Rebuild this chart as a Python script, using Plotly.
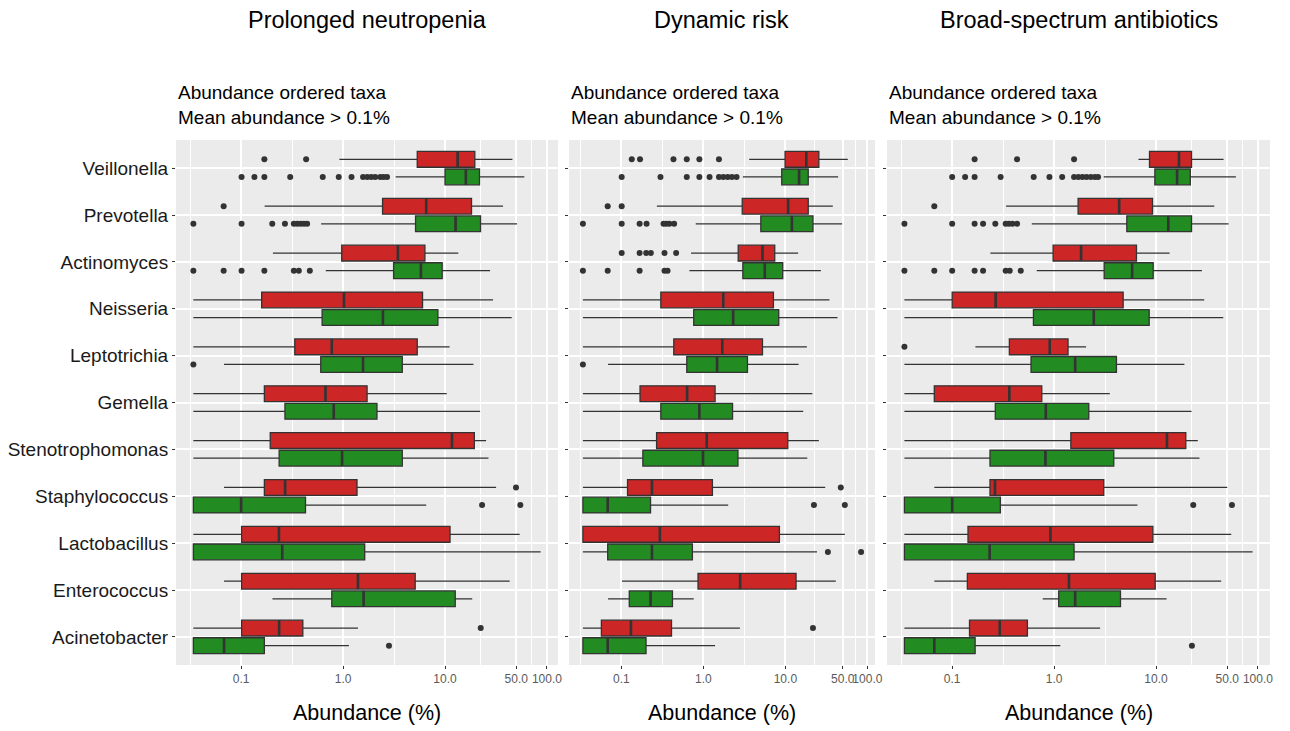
import math
import plotly.graph_objects as go

# ---------------- data ----------------
taxa = ["Veillonella", "Prevotella", "Actinomyces", "Neisseria", "Leptotrichia",
        "Gemella", "Stenotrophomonas", "Staphylococcus", "Lactobacillus",
        "Enterococcus", "Acinetobacter"]
panel_titles = ["Prolonged neutropenia", "Dynamic risk", "Broad-spectrum antibiotics"]
subtitle = "Abundance ordered taxa<br>Mean abundance > 0.1%"
x_title = "Abundance (%)"
x_tick_vals = [0.1, 1, 10, 50, 100]
x_tick_text = ["0.1", "1.0", "10.0", "50.0", "100.0"]
x_minor_vals = [0.0316, 0.316, 3.16, 22.4, 70.7]
group_colors = {"red": "#CD2626", "green": "#228B22"}

# Panel 1: Prolonged neutropenia
pn_red_low = [0.92, 0.170, 0.205, 0.034, 0.034, 0.034, 0.034, 0.068, 0.034, 0.068, 0.034]
pn_red_q1 = [5.34, 2.44, 0.97, 0.159, 0.336, 0.169, 0.193, 0.169, 0.101, 0.101, 0.101]
pn_red_med = [13.3, 6.54, 3.45, 1.02, 0.775, 0.672, 11.7, 0.270, 0.235, 1.40, 0.236]
pn_red_q3 = [19.6, 18.2, 6.35, 6.02, 5.34, 1.72, 19.4, 1.37, 11.2, 5.1, 0.403]
pn_red_high = [45.8, 37.1, 13.5, 29.6, 11.1, 10.4, 25.3, 31.7, 54.0, 43.1, 1.40]
pn_red_out = [[0.169, 0.434], [0.0674], [], [], [], [], [], [49.7], [], [], [22.4]]

pn_green_low = [3.28, 0.609, 0.677, 0.034, 0.068, 0.034, 0.034, 0.034, 0.034, 0.203, 0.034]
pn_green_q1 = [10.0, 5.14, 3.13, 0.623, 0.604, 0.269, 0.236, 0.034, 0.034, 0.775, 0.034]
pn_green_med = [16.0, 12.7, 5.80, 2.46, 1.57, 0.81, 0.978, 0.100, 0.253, 1.59, 0.068]
pn_green_q3 = [21.8, 22.3, 9.38, 8.51, 3.81, 2.15, 3.81, 0.428, 1.63, 12.6, 0.169]
pn_green_high = [60.0, 50.9, 27.7, 45.1, 19.0, 22.1, 26.7, 6.54, 86.7, 18.5, 1.14]
pn_green_out = [[0.101, 0.135, 0.169, 0.303, 0.632, 0.907, 1.21, 1.57, 1.73, 1.89, 2.07, 2.32, 2.50, 2.70],
                [0.034, 0.101, 0.202, 0.269, 0.329, 0.355, 0.384, 0.413, 0.444],
                [0.034, 0.0674, 0.101, 0.169, 0.329, 0.368, 0.472],
                [], [0.034], [], [], [23.1, 54.8], [], [], [2.82]]

# Panel 2: Dynamic risk
dr_red_low = [3.62, 0.271, 0.708, 0.034, 0.034, 0.034, 0.034, 0.034, 0.034, 0.102, 0.034]
dr_red_q1 = [9.91, 2.98, 2.66, 0.303, 0.436, 0.169, 0.269, 0.119, 0.034, 0.861, 0.0571]
dr_red_med = [18.0, 10.8, 5.26, 1.75, 1.70, 0.634, 1.10, 0.236, 0.295, 2.81, 0.131]
dr_red_q3 = [25.6, 19.0, 7.42, 7.15, 5.26, 1.39, 10.7, 1.29, 8.46, 13.5, 0.409]
dr_red_high = [57.7, 37.9, 14.3, 34.5, 18.3, 21.3, 25.6, 30.6, 53.1, 41.2, 2.79]
dr_red_out = [[0.134, 0.169, 0.432, 0.628, 0.894, 1.55], [0.0682, 0.101],
              [0.101, 0.167, 0.201, 0.229, 0.336, 0.466],
              [], [], [], [], [47.4], [], [], [21.7]]

dr_green_low = [3.03, 0.807, 0.676, 0.034, 0.0689, 0.034, 0.034, 0.034, 0.034, 0.0689, 0.034]
dr_green_q1 = [9.03, 5.02, 3.03, 0.763, 0.628, 0.303, 0.183, 0.034, 0.0682, 0.125, 0.034]
dr_green_med = [14.7, 12.0, 5.61, 2.31, 1.47, 0.894, 0.99, 0.0682, 0.236, 0.227, 0.0682]
dr_green_q3 = [19.0, 21.7, 9.28, 8.30, 3.45, 2.27, 2.64, 0.227, 0.735, 0.420, 0.20]
dr_green_high = [44.0, 49.2, 27.1, 43.2, 14.5, 16.5, 18.5, 2.01, 24.3, 0.763, 1.39]
dr_green_out = [[0.101, 0.30, 0.628, 0.894, 1.19, 1.55, 1.75, 1.98, 2.23, 2.54],
                [0.034, 0.101, 0.167, 0.203, 0.327, 0.355, 0.385, 0.44],
                [0.034, 0.0682, 0.167, 0.336, 0.366],
                [], [0.034], [], [], [22.3, 53.1], [33.0, 83.8], [], []]

# Panel 3: Broad-spectrum antibiotics
bsa_red_low = [6.73, 0.338, 0.237, 0.034, 0.169, 0.034, 0.034, 0.0668, 0.034, 0.0668, 0.034]
bsa_red_q1 = [8.63, 1.72, 0.978, 0.100, 0.364, 0.0668, 1.46, 0.235, 0.143, 0.141, 0.148]
bsa_red_med = [16.8, 4.35, 1.84, 0.267, 0.906, 0.364, 12.8, 0.263, 0.921, 1.40, 0.293]
bsa_red_q3 = [22.3, 9.24, 6.43, 4.76, 1.37, 0.757, 19.6, 3.07, 9.31, 9.82, 0.547]
bsa_red_high = [46.0, 37.3, 13.6, 29.7, 2.06, 3.52, 25.7, 50.0, 54.7, 43.6, 2.83]
bsa_red_out = [[0.166, 0.433, 1.57], [0.0668], [], [], [0.034], [], [], [], [], [], []]

bsa_green_low = [3.07, 0.604, 0.676, 0.034, 0.034, 0.034, 0.034, 0.034, 0.034, 0.774, 0.034]
bsa_green_q1 = [9.74, 5.17, 3.10, 0.627, 0.594, 0.265, 0.235, 0.034, 0.034, 1.11, 0.034]
bsa_green_med = [16.1, 13.2, 5.83, 2.45, 1.61, 0.829, 0.822, 0.100, 0.233, 1.61, 0.0668]
bsa_green_q3 = [21.7, 22.3, 9.38, 8.57, 4.09, 2.19, 3.85, 0.297, 1.57, 4.48, 0.168]
bsa_green_high = [60.8, 51.5, 28.2, 45.7, 19.0, 22.3, 26.7, 6.58, 88.6, 12.7, 1.15]
bsa_green_out = [[0.100, 0.134, 0.166, 0.299, 0.631, 0.90, 1.20, 1.57, 1.73, 1.90, 2.08, 2.29, 2.51, 2.70],
                 [0.034, 0.100, 0.166, 0.201, 0.265, 0.335, 0.36, 0.39, 0.433],
                 [0.034, 0.0668, 0.100, 0.166, 0.201, 0.335, 0.367, 0.471],
                 [], [], [], [], [23.2, 55.6], [], [], [22.5]]

panels = [
    {"red": (pn_red_low, pn_red_q1, pn_red_med, pn_red_q3, pn_red_high, pn_red_out),
     "green": (pn_green_low, pn_green_q1, pn_green_med, pn_green_q3, pn_green_high, pn_green_out)},
    {"red": (dr_red_low, dr_red_q1, dr_red_med, dr_red_q3, dr_red_high, dr_red_out),
     "green": (dr_green_low, dr_green_q1, dr_green_med, dr_green_q3, dr_green_high, dr_green_out)},
    {"red": (bsa_red_low, bsa_red_q1, bsa_red_med, bsa_red_q3, bsa_red_high, bsa_red_out),
     "green": (bsa_green_low, bsa_green_q1, bsa_green_med, bsa_green_q3, bsa_green_high, bsa_green_out)},
]

# ---------------- layout geometry ----------------
W, H = 1290, 731
panel_px = [(176, 558), (569, 875), (887, 1270)]
top_px, bot_px = 140, 665
dodge = 0.1875
box_w = 0.3375
FONT = "Liberation Sans, Arial, sans-serif"

fig = go.Figure()
n = len(taxa)
positions = [n - i for i in range(n)]

for p, pdata in enumerate(panels):
    xa = "x" if p == 0 else f"x{p+1}"
    ya = "y" if p == 0 else f"y{p+1}"
    all_vals = []
    for grp, sign in (("red", 1), ("green", -1)):
        low, q1, med, q3, high, outs = pdata[grp]
        ys = [pos + sign * dodge for pos in positions]
        fig.add_trace(go.Box(
            orientation="h", y=ys, q1=q1, median=med, q3=q3,
            lowerfence=low, upperfence=high, width=box_w,
            fillcolor=group_colors[grp], line=dict(color="#333333", width=1.3),
            whiskerwidth=0, boxpoints=False, showlegend=False,
            xaxis=xa, yaxis=ya, hoverinfo="skip"))
        # thicker median line (ggplot style)
        mx, my = [], []
        for yv, m in zip(ys, med):
            mx += [m, m, None]
            my += [yv - box_w / 2, yv + box_w / 2, None]
        fig.add_trace(go.Scatter(x=mx, y=my, mode="lines",
                                 line=dict(color="#333333", width=2.6),
                                 showlegend=False, xaxis=xa, yaxis=ya, hoverinfo="skip"))
        ox, oy = [], []
        for yv, o in zip(ys, outs):
            ox += o
            oy += [yv] * len(o)
        fig.add_trace(go.Scatter(x=ox, y=oy, mode="markers",
                                 marker=dict(color="#333333", size=6),
                                 showlegend=False, xaxis=xa, yaxis=ya, hoverinfo="skip"))
        all_vals += low + high + [v for o in outs for v in o]
    lo = math.log10(min(all_vals))
    hi = math.log10(max(all_vals))
    ext = 0.05 * (hi - lo)
    x0, x1 = panel_px[p]
    xkey = "xaxis" if p == 0 else f"xaxis{p+1}"
    ykey = "yaxis" if p == 0 else f"yaxis{p+1}"
    fig.update_layout(**{
        xkey: dict(type="log", domain=[x0 / W, x1 / W], anchor=ya,
                   range=[lo - ext, hi + ext], automargin=False,
                   tickmode="array", tickvals=x_tick_vals, ticktext=x_tick_text,
                   tickangle=0,
                   ticks="outside", ticklen=3, tickcolor="#333333",
                   tickfont=dict(family=FONT, size=12, color="#5a5a5a"),
                   showgrid=True, gridcolor="white", gridwidth=1.5,
                   minor=dict(tickmode="array", tickvals=x_minor_vals, showgrid=True,
                              gridcolor="white", gridwidth=0.7, ticks=""),
                   zeroline=False, showline=False),
        ykey: dict(domain=[1 - bot_px / H, 1 - top_px / H], anchor=xa,
                   range=[0.4, n + 0.6], automargin=False,
                   tickmode="array", tickvals=positions, ticktext=taxa,
                   showticklabels=(p == 0),
                   ticks="outside", ticklen=3, tickcolor="#333333",
                   tickfont=dict(family=FONT, size=19, color="#1a1a1a"),
                   showgrid=True, gridcolor="white", gridwidth=1.5,
                   zeroline=False, showline=False),
    })
    cx = (x0 + x1) / 2 / W
    fig.add_annotation(text=panel_titles[p], x=cx, y=1 - 20 / H, xref="paper", yref="paper",
                       xanchor="center", yanchor="middle", showarrow=False,
                       font=dict(family=FONT, size=23.5, color="black"))
    fig.add_annotation(text=subtitle, x=x0 / W, y=1 - 105 / H, xref="paper", yref="paper",
                       xanchor="left", yanchor="middle", align="left", showarrow=False,
                       font=dict(family=FONT, size=19, color="black"))
    fig.add_annotation(text=x_title, x=cx, y=1 - 713 / H, xref="paper", yref="paper",
                       xanchor="center", yanchor="middle", showarrow=False,
                       font=dict(family=FONT, size=21.5, color="black"))

fig.update_layout(width=W, height=H, margin=dict(l=0, r=0, t=0, b=0, autoexpand=False),
                  paper_bgcolor="white", plot_bgcolor="#EBEBEB",
                  showlegend=False, boxmode="overlay")

fig.write_html("out.html")
